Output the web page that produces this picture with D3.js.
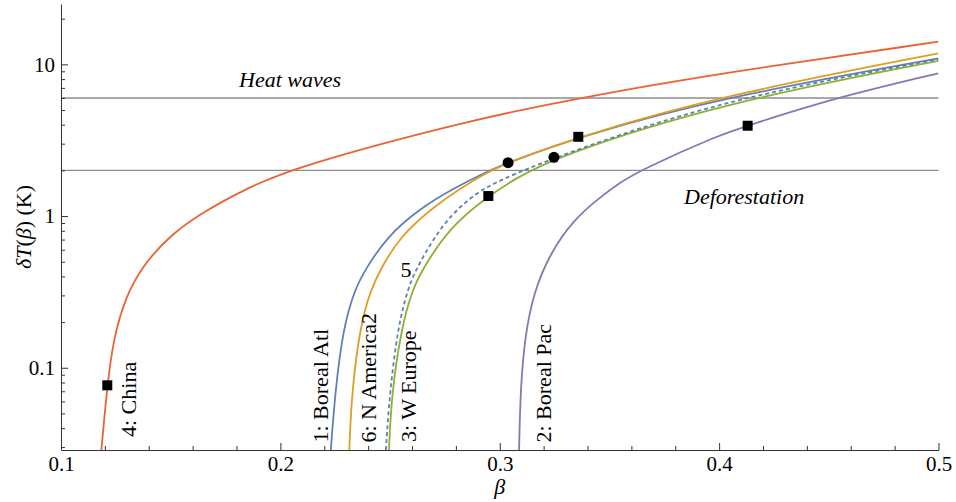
<!DOCTYPE html>
<html><head><meta charset="utf-8">
<script src="https://cdn.jsdelivr.net/npm/d3@7"></script>
<style>
html,body{margin:0;padding:0;background:#fff;}
text{font-family:"Liberation Serif","Times New Roman",serif;fill:#000;}
</style></head>
<body><svg id="c" width="956" height="502"></svg>
<script>
// ---- data ----
const xTicks = [0.1, 0.2, 0.3, 0.4, 0.5];
const yTicks = [0.1, 1, 10];
const thresholds = [6, 2];            // heat waves, deforestation
const thresholdNames = ["Heat waves", "Deforestation"];

const betaChina = [0.1184, 0.1211, 0.1238, 0.1292, 0.1368, 0.1497, 0.1649, 0.1846, 0.2059, 0.2864, 0.3351, 0.4004, 0.5];
const dtChina   = [0.0287, 0.0766, 0.152, 0.288, 0.463, 0.749, 1.068, 1.52, 2.09, 4.29, 5.97, 8.73, 14.1];

const betaBorealAtl = [0.2230, 0.2249, 0.2287, 0.2340, 0.2386, 0.2485, 0.2637, 0.2788, 0.2940, 0.3038, 0.3358, 0.4004, 0.5];
const dtBorealAtl   = [0.0287, 0.0678, 0.186, 0.33, 0.441, 0.731, 1.124, 1.52, 1.96, 2.25, 3.33, 6.02, 10.96];

const betaNAmerica2 = [0.2314, 0.2325, 0.2363, 0.2410, 0.2454, 0.2545, 0.2690, 0.2819, 0.2948, 0.3038, 0.3358, 0.4004, 0.5];
const dtNAmerica2   = [0.0287, 0.0678, 0.186, 0.32, 0.441, 0.731, 1.124, 1.52, 1.96, 2.25, 3.33, 6.18, 11.82];

const betaWEurope = [0.2495, 0.2507, 0.2553, 0.2600, 0.2645, 0.2773, 0.2948, 0.3062, 0.3247, 0.4004, 0.5];
const dtWEurope   = [0.0287, 0.0678, 0.186, 0.32, 0.441, 0.85, 1.355, 1.73, 2.44, 5.53, 10.56];

const betaRegion5 = [0.2481, 0.2498, 0.2536, 0.2580, 0.2625, 0.2750, 0.2900, 0.3001, 0.3247, 0.4004, 0.5];
const dtRegion5   = [0.0287, 0.0678, 0.186, 0.33, 0.47, 0.95, 1.45, 1.72, 2.44, 5.81, 10.8];

const betaBorealPac = [0.3088, 0.3095, 0.3115, 0.3153, 0.3229, 0.3335, 0.3457, 0.3548, 0.3639, 0.4004, 0.4130, 0.4521, 0.5];
const dtBorealPac   = [0.0287, 0.075, 0.160, 0.309, 0.568, 0.941, 1.33, 1.66, 2.0, 3.45, 3.94, 5.97, 8.73];

const squareBeta = [0.1211, 0.2948, 0.3358, 0.4130];
const squareDT   = [0.0766, 1.355, 3.33, 3.94];
const circleBeta = [0.3038, 0.3247];
const circleDT   = [2.25, 2.44];

// ---- layout ----
const FONT = '"Liberation Serif","Times New Roman",serif';
const svg = d3.select("#c");
const L = 61, R = 938.5, T = 4, B = 450;
const x = d3.scaleLinear().domain([0.1, 0.5]).range([L, R]);
const y = d3.scaleLog().domain([0.0287, 25]).range([B, T]);

const series = [
  {b: betaBorealAtl, v: dtBorealAtl, color: "#5E81B5", dash: null},
  {b: betaNAmerica2, v: dtNAmerica2, color: "#E19C24", dash: null},
  {b: betaWEurope,   v: dtWEurope,   color: "#8FB032", dash: null},
  {b: betaRegion5,   v: dtRegion5,   color: "#5E81B5", dash: "4,3"},
  {b: betaChina,     v: dtChina,     color: "#EB6235", dash: null},
  {b: betaBorealPac, v: dtBorealPac, color: "#8778B3", dash: null}
];

svg.append("defs").append("clipPath").attr("id","clip")
  .append("rect").attr("x", L).attr("y", T).attr("width", R - L).attr("height", B - T);

// threshold lines
svg.append("g").selectAll("line").data(thresholds).join("line")
  .attr("x1", L).attr("x2", R).attr("y1", d => y(d)).attr("y2", d => y(d))
  .attr("stroke", "#8c8c8c").attr("stroke-width", 1.3);

// curves
const line = d3.line().x(d => x(d[0])).y(d => y(d[1])).curve(d3.curveBasis);
const gc = svg.append("g").attr("clip-path", "url(#clip)");
series.forEach(s => {
  gc.append("path").datum(s.b.map((b, i) => [b, s.v[i]]))
    .attr("d", line).attr("fill", "none").attr("stroke", s.color)
    .attr("stroke-width", 1.8).attr("stroke-dasharray", s.dash);
});

// markers
svg.append("g").selectAll("rect").data(squareBeta.map((b, i) => [b, squareDT[i]])).join("rect")
  .attr("x", d => x(d[0]) - 5).attr("y", d => y(d[1]) - 5).attr("width", 10).attr("height", 10).attr("fill", "#000");
svg.append("g").selectAll("circle").data(circleBeta.map((b, i) => [b, circleDT[i]])).join("circle")
  .attr("cx", d => x(d[0])).attr("cy", d => y(d[1])).attr("r", 5.5).attr("fill", "#000");

// axes
const axisColor = "#333";
const xMinor = d3.range(0.1, 0.5001, 0.02).filter(v => Math.abs(Math.round(v * 10) - v * 10) > 1e-6);
const yMinor = [];
[0.01, 0.1, 1, 10].forEach(dec => { for (let k = 2; k <= 9; k++) { const v = +(k * dec).toPrecision(3); if (v >= 0.0287 && v <= 25) yMinor.push(v); } });

function styleAxis(g) {
  g.attr("font-family", FONT).attr("font-size", 21);
  g.select(".domain").attr("stroke", axisColor);
  g.selectAll(".tick line").attr("stroke", axisColor);
  g.selectAll(".tick text").style("font-family", FONT).style("font-size", "21px").attr("fill", "#000");
}
const gx = svg.append("g").attr("transform", `translate(0,${B})`)
  .call(d3.axisBottom(x).tickValues(xTicks).tickFormat(d3.format(".1f")).tickSizeInner(-7).tickSizeOuter(0).tickPadding(6));
styleAxis(gx);
svg.append("g").attr("transform", `translate(0,${B})`)
  .call(d3.axisBottom(x).tickValues(xMinor).tickFormat("").tickSizeInner(-4).tickSizeOuter(0))
  .call(g => { g.select(".domain").remove(); g.selectAll("line").attr("stroke", axisColor); });

const gy = svg.append("g").attr("transform", `translate(${L},0)`)
  .call(d3.axisLeft(y).tickValues(yTicks).tickFormat(d => d >= 1 ? d3.format("d")(d) : d3.format(".1f")(d)).tickSizeInner(-7).tickSizeOuter(0).tickPadding(6));
styleAxis(gy);
svg.append("g").attr("transform", `translate(${L},0)`)
  .call(d3.axisLeft(y).tickValues(yMinor).tickFormat("").tickSizeInner(-4).tickSizeOuter(0))
  .call(g => { g.select(".domain").remove(); g.selectAll("line").attr("stroke", axisColor); });

// axis titles
svg.append("text").attr("x", (L + R) / 2).attr("y", 494).attr("text-anchor", "middle")
  .style("font-size", "22px").style("font-style", "italic").text("β");
const yt = svg.append("text").attr("transform", `translate(31,${(T + B) / 2}) rotate(-90)`)
  .attr("text-anchor", "middle").style("font-size", "22px");
yt.append("tspan").style("font-style", "italic").text("δT");
yt.append("tspan").text("(");
yt.append("tspan").style("font-style", "italic").text("β");
yt.append("tspan").text(") (K)");

// threshold labels
svg.append("text").attr("x", 239).attr("y", 87).style("font-size", "22px").style("font-style", "italic").text(thresholdNames[0]);
svg.append("text").attr("x", 684).attr("y", 204).style("font-size", "22px").style("font-style", "italic").text(thresholdNames[1]);

// curve labels (rotated)
const rot = [
  ["4: China", 136, 437],
  ["1: Boreal Atl", 328, 442.5],
  ["6: N America2", 376, 442.5],
  ["3: W Europe", 416, 442],
  ["2: Boreal Pac", 551, 442.5]
];
svg.append("g").selectAll("text").data(rot).join("text")
  .attr("transform", d => `translate(${d[1]},${d[2]}) rotate(-90)`)
  .style("font-size", "22px").text(d => d[0]);
svg.append("text").attr("x", 406).attr("y", 277).attr("text-anchor", "middle").style("font-size", "22px").text("5");
</script>
</body></html>
